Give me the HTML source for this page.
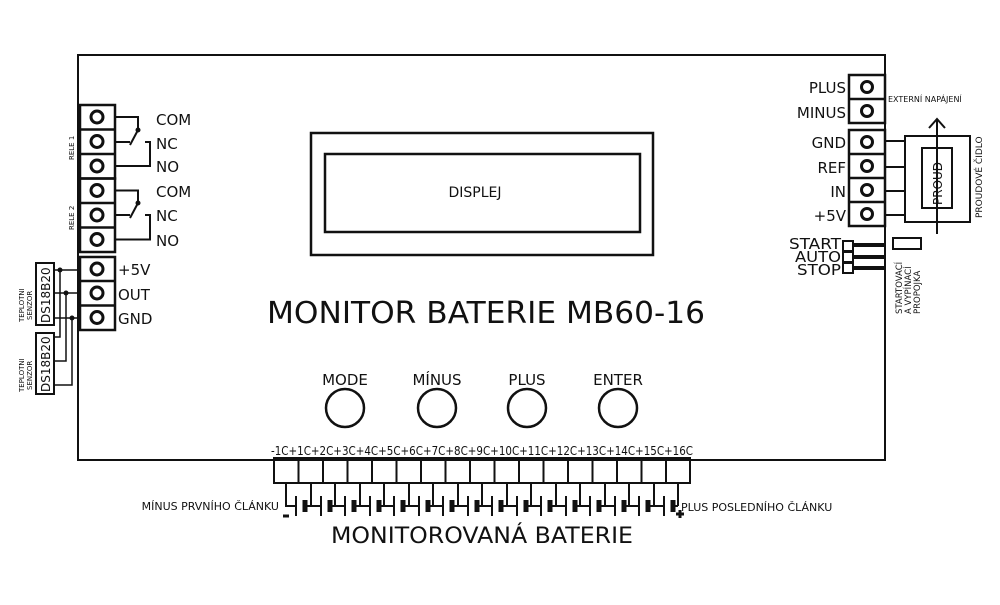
<!DOCTYPE html>
<html><head><meta charset="utf-8"><style>
body{margin:0;background:#fff}
svg text{font-family:"DejaVu Sans","Liberation Sans",sans-serif;fill:#111}
</style></head><body>
<svg width="1000" height="600" viewBox="0 0 1000 600" xmlns="http://www.w3.org/2000/svg">
<g fill="none" stroke="#111" stroke-width="2.5">
<rect x="78" y="55" width="807" height="405" stroke-width="2"/>
<rect x="311" y="133" width="342" height="122"/>
<rect x="325" y="154" width="315" height="78"/>
<circle cx="345" cy="408" r="19"/><circle cx="437" cy="408" r="19"/><circle cx="527" cy="408" r="19"/><circle cx="618" cy="408" r="19"/>
<rect x="80" y="105" width="35" height="73.5"/><line x1="80" y1="129.5" x2="115" y2="129.5"/><line x1="80" y1="154" x2="115" y2="154"/>
<rect x="80" y="178.5" width="35" height="73.5"/><line x1="80" y1="203" x2="115" y2="203"/><line x1="80" y1="227.5" x2="115" y2="227.5"/>
<rect x="80" y="257" width="35" height="73"/><line x1="80" y1="281" x2="115" y2="281"/><line x1="80" y1="305.5" x2="115" y2="305.5"/>
<g stroke-width="3">
<circle cx="97" cy="117" r="6"/><circle cx="97" cy="141.5" r="6"/><circle cx="97" cy="166" r="6"/>
<circle cx="97" cy="190.5" r="6"/><circle cx="97" cy="215" r="6"/><circle cx="97" cy="239.5" r="6"/>
<circle cx="97" cy="269" r="6"/><circle cx="97" cy="293" r="6"/><circle cx="97" cy="317.5" r="6"/>
</g>
<g stroke-width="2">
<polyline points="115,117 138,117 138,130"/>
<line x1="138" y1="130" x2="130" y2="145"/>
<polyline points="115,142 130,142"/>
<polyline points="145,142 150,142 150,166 115,166"/>
<polyline points="115,190.5 138,190.5 138,203"/>
<line x1="138" y1="203" x2="130" y2="218"/>
<polyline points="115,215 130,215"/>
<polyline points="145,215 150,215 150,239.5 115,239.5"/>
</g>
<rect x="36" y="263" width="18" height="62" stroke-width="2"/>
<rect x="36" y="333" width="18" height="61" stroke-width="2"/>
<g stroke-width="1.5">
<line x1="54" y1="270" x2="80" y2="270"/>
<line x1="54" y1="293" x2="80" y2="293"/>
<line x1="54" y1="318" x2="80" y2="318"/>
<polyline points="60,270 60,337 54,337"/>
<polyline points="66,293 66,361 54,361"/>
<polyline points="72,318 72,385 54,385"/>
</g>
<rect x="849" y="75" width="36" height="48"/><line x1="849" y1="99" x2="885" y2="99"/>
<rect x="849" y="130" width="36" height="96"/><line x1="849" y1="154" x2="885" y2="154"/><line x1="849" y1="178" x2="885" y2="178"/><line x1="849" y1="202" x2="885" y2="202"/>
<g stroke-width="3">
<circle cx="867" cy="87" r="5.5"/><circle cx="867" cy="111" r="5.5"/>
<circle cx="867" cy="142" r="5.5"/><circle cx="867" cy="166" r="5.5"/><circle cx="867" cy="190" r="5.5"/><circle cx="867" cy="214" r="5.5"/>
</g>
<g stroke-width="2">
<line x1="885" y1="141" x2="905" y2="141"/><line x1="885" y1="167" x2="905" y2="167"/><line x1="885" y1="191" x2="905" y2="191"/><line x1="885" y1="215" x2="905" y2="215"/>
<rect x="905" y="136" width="65" height="86"/>
<rect x="922" y="148" width="30" height="60"/>
<line x1="937" y1="234" x2="937" y2="120"/>
<polyline points="929,128 937,119 945,128"/>
<rect x="843" y="241" width="10" height="10"/><rect x="843" y="252" width="10" height="10"/><rect x="843" y="263" width="10" height="10"/>
<rect x="893" y="238" width="28" height="11"/>
</g>
<g stroke-width="4">
<line x1="853" y1="245" x2="885" y2="245"/><line x1="853" y1="257" x2="885" y2="257"/><line x1="853" y1="268" x2="885" y2="268"/>
</g>
<rect x="274" y="458" width="416" height="25" stroke-width="2"/>
<g stroke-width="2">
<line x1="298.5" y1="458" x2="298.5" y2="483"/><line x1="323" y1="458" x2="323" y2="483"/><line x1="347.5" y1="458" x2="347.5" y2="483"/><line x1="372" y1="458" x2="372" y2="483"/><line x1="396.5" y1="458" x2="396.5" y2="483"/><line x1="421" y1="458" x2="421" y2="483"/><line x1="445.5" y1="458" x2="445.5" y2="483"/><line x1="470" y1="458" x2="470" y2="483"/><line x1="494.5" y1="458" x2="494.5" y2="483"/><line x1="519" y1="458" x2="519" y2="483"/><line x1="543.5" y1="458" x2="543.5" y2="483"/><line x1="568" y1="458" x2="568" y2="483"/><line x1="592.5" y1="458" x2="592.5" y2="483"/><line x1="617" y1="458" x2="617" y2="483"/><line x1="641.5" y1="458" x2="641.5" y2="483"/><line x1="666" y1="458" x2="666" y2="483"/>
</g>
<g stroke-width="2">
<path d="M286 483V506H296 M306 506H311 M311 483V506H321 M331 506H335 M335 483V506H345 M355 506H360 M360 483V506H370 M380 506H384 M384 483V506H394 M404 506H409 M409 483V506H419 M429 506H433 M433 483V506H443 M453 506H458 M458 483V506H468 M478 506H482 M482 483V506H492 M502 506H507 M507 483V506H517 M527 506H531 M531 483V506H541 M551 506H556 M556 483V506H566 M576 506H580 M580 483V506H590 M600 506H605 M605 483V506H615 M625 506H629 M629 483V506H639 M649 506H654 M654 483V506H664 M674 506H678 M678 483V506"/>
<path d="M296 496V516 M321 496V516 M345 496V516 M370 496V516 M394 496V516 M419 496V516 M443 496V516 M468 496V516 M492 496V516 M517 496V516 M541 496V516 M566 496V516 M590 496V516 M615 496V516 M639 496V516 M664 496V516"/>
</g>
<g stroke-width="5">
<path d="M305 500V512 M330 500V512 M354 500V512 M379 500V512 M403 500V512 M428 500V512 M452 500V512 M477 500V512 M501 500V512 M526 500V512 M550 500V512 M575 500V512 M599 500V512 M624 500V512 M648 500V512 M673 500V512"/>
</g>
<line x1="283" y1="516" x2="289" y2="516" stroke-width="3"/>
<path d="M676 514H684 M680 510V518" stroke-width="3"/>
</g>
<g fill="#111">
<circle cx="138" cy="130" r="2.5"/><circle cx="138" cy="203" r="2.5"/>
<circle cx="60" cy="270" r="2.5"/><circle cx="66" cy="293" r="2.5"/><circle cx="72" cy="318" r="2.5"/>
</g>
<text x="475" y="197" font-size="14" text-anchor="middle">DISPLEJ</text>
<text x="486" y="323" font-size="30" text-anchor="middle" textLength="438" lengthAdjust="spacingAndGlyphs">MONITOR BATERIE MB60-16</text>
<g font-size="15" text-anchor="middle">
<text x="345" y="385">MODE</text><text x="437" y="385">MÍNUS</text><text x="527" y="385">PLUS</text><text x="618" y="385">ENTER</text>
</g>
<g font-size="15">
<text x="156" y="125">COM</text><text x="156" y="149">NC</text><text x="156" y="172">NO</text>
<text x="156" y="197">COM</text><text x="156" y="221">NC</text><text x="156" y="246">NO</text>
<text x="118" y="275">+5V</text><text x="118" y="300">OUT</text><text x="118" y="324">GND</text>
</g>
<g font-size="7">
<text transform="translate(74,160) rotate(-90)">RELE 1</text>
<text transform="translate(74,230) rotate(-90)">RELE 2</text>
<text transform="translate(24,322) rotate(-90)">TEPLOTNI</text><text transform="translate(32,320) rotate(-90)">SENZOR</text>
<text transform="translate(24,392) rotate(-90)">TEPLOTNI</text><text transform="translate(32,390) rotate(-90)">SENZOR</text>
</g>
<g font-size="12">
<text transform="translate(50,323) rotate(-90)">DS18B20</text>
<text transform="translate(50,392) rotate(-90)">DS18B20</text>
</g>
<g font-size="15" text-anchor="end">
<text x="846" y="93">PLUS</text><text x="846" y="118">MINUS</text>
<text x="846" y="148">GND</text><text x="846" y="173">REF</text><text x="846" y="197">IN</text><text x="846" y="221">+5V</text>
</g>
<g font-size="15" text-anchor="end" textLength="52">
<text x="841" y="249" textLength="52" lengthAdjust="spacingAndGlyphs">START</text><text x="841" y="262" textLength="46" lengthAdjust="spacingAndGlyphs">AUTO</text><text x="841" y="275" textLength="44" lengthAdjust="spacingAndGlyphs">STOP</text>
</g>
<text x="888" y="102" font-size="8">EXTERNÍ NAPÁJENÍ</text>
<text transform="translate(982,218) rotate(-90)" font-size="9">PROUDOVÉ ČIDLO</text>
<text transform="translate(942,205) rotate(-90)" font-size="12">PROUD</text>
<g font-size="8.5"><text transform="translate(902,314) rotate(-90)">STARTOVACÍ</text><text transform="translate(911,314) rotate(-90)">A VYPÍNACÍ</text><text transform="translate(920,314) rotate(-90)">PROPOJKA</text></g>
<text x="482" y="455" font-size="12" text-anchor="middle" textLength="422" lengthAdjust="spacingAndGlyphs">-1C+1C+2C+3C+4C+5C+6C+7C+8C+9C+10C+11C+12C+13C+14C+15C+16C</text>
<text x="279" y="510" font-size="11" text-anchor="end">MÍNUS PRVNÍHO ČLÁNKU</text>
<text x="681" y="511" font-size="11">PLUS POSLEDNÍHO ČLÁNKU</text>
<text x="482" y="543" font-size="22" text-anchor="middle" textLength="302" lengthAdjust="spacingAndGlyphs">MONITOROVANÁ BATERIE</text>
</svg>
</body></html>
